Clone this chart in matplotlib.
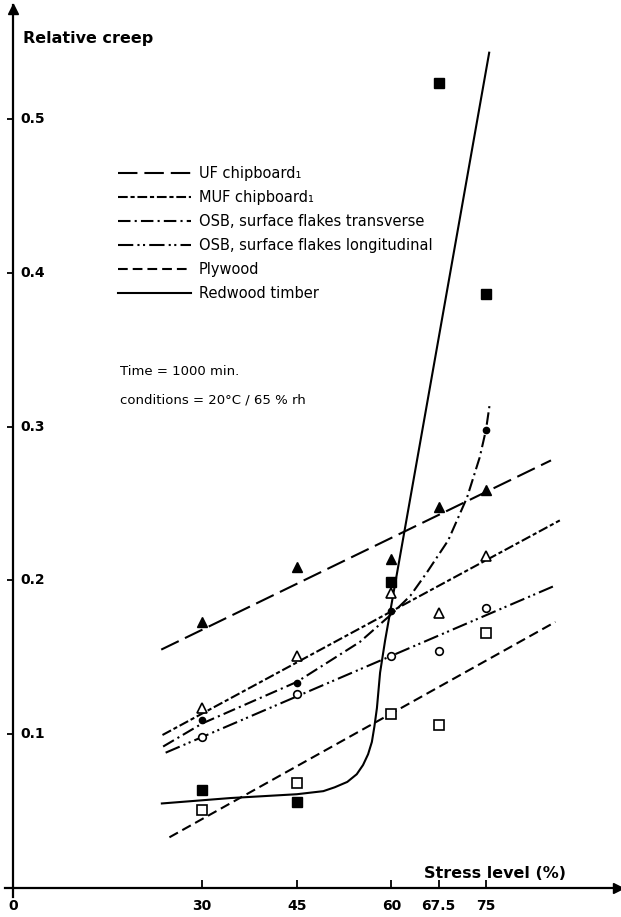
import numpy as np
import matplotlib
matplotlib.use('Agg')
import matplotlib.pyplot as plt
from matplotlib.lines import Line2D

plt.rcParams['lines.scale_dashes'] = False
plt.rcParams['font.family'] = ['DejaVu Sans']

# measured points (stress level %, relative creep)
stress = np.array([30, 45, 60, 67.5, 75])
uf_pts = [0.173, 0.209, 0.214, 0.248, 0.259]          # filled triangles
muf_pts = [0.117, 0.151, 0.192, 0.179, 0.216]         # open triangles
osbt_pts = [0.109, 0.133, 0.180, np.nan, 0.298]       # filled circles
osbl_pts = [0.098, 0.126, 0.151, 0.154, 0.182]        # open circles
ply_pts = [0.051, 0.068, 0.113, 0.106, 0.166]         # open squares
red_pts = [0.064, 0.056, 0.199, 0.523, 0.386]         # filled squares

# fitted curves
uf_fit_x, uf_fit_y = [23.5, 85.3], [0.155, 0.278]
muf_fit_x, muf_fit_y = [23.7, 86.7], [0.0995, 0.239]
osbl_fit_x, osbl_fit_y = [24.2, 85.6], [0.088, 0.196]
ply_fit_x, ply_fit_y = [24.8, 86.0], [0.033, 0.173]
osbt_fit_x = [23.8, 30, 45, 55, 60, 63, 65.6, 69, 72, 74, 75, 75.6]
osbt_fit_y = [0.092, 0.107, 0.134, 0.160, 0.178, 0.190, 0.205, 0.226, 0.254, 0.280, 0.298, 0.315]
red_fit_x = [23.6, 34.4, 45, 49.2, 51, 53, 54.5, 55.5, 56.3, 56.9, 57.3, 57.7, 58.2, 59, 75.5]
red_fit_y = [0.055, 0.0585, 0.061, 0.063, 0.0655, 0.069, 0.074, 0.080, 0.087, 0.095,
             0.105, 0.117, 0.140, 0.161, 0.543]

xticks = [0, 30, 45, 60, 67.5, 75]
xticklabels = ['0', '30', '45', '60', '67.5', '75']
yticks = [0.1, 0.2, 0.3, 0.4, 0.5]

names = ['UF chipboard\u2081', 'MUF chipboard\u2081', 'OSB, surface flakes transverse',
         'OSB, surface flakes longitudinal', 'Plywood', 'Redwood timber']
dash = [(14, 5), (7, 2, 3, 2), (9, 3, 1.5, 3), (11, 3, 1.5, 2.5, 1.5, 3), (7, 3.6), None]

fig = plt.figure(figsize=(6.21, 9.17), dpi=100)
ax = fig.add_axes([5 / 621, 20 / 917, 616 / 621, 892 / 917])
ax.set_xlim(-1.27, 96.4)
ax.set_ylim(-0.0058, 0.574)

lw = 1.5
fits = [(uf_fit_x, uf_fit_y), (muf_fit_x, muf_fit_y), (osbt_fit_x, osbt_fit_y),
        (osbl_fit_x, osbl_fit_y), (ply_fit_x, ply_fit_y), (red_fit_x, red_fit_y)]
for (fx, fy), d in zip(fits, dash):
    if d is None:
        ax.plot(fx, fy, color='k', lw=lw, solid_joinstyle='round')
    else:
        ax.plot(fx, fy, color='k', lw=lw, dashes=d)

ax.plot(stress, uf_pts, '^', color='k', ms=7, ls='none')
ax.plot(stress, muf_pts, '^', mfc='white', mec='k', mew=1.2, ms=7, ls='none')
ax.plot(stress, osbt_pts, 'o', color='k', ms=4.5, ls='none')
ax.plot(stress, osbl_pts, 'o', mfc='white', mec='k', mew=1.2, ms=5.5, ls='none')
ax.plot(stress, ply_pts, 's', mfc='white', mec='k', mew=1.2, ms=7.5, ls='none')
ax.plot(stress, red_pts, 's', color='k', ms=7.5, ls='none')

# axes through the origin with arrows
for s in ['top', 'right']:
    ax.spines[s].set_visible(False)
for s in ['left', 'bottom']:
    ax.spines[s].set_position(('data', 0))
    ax.spines[s].set_linewidth(1.6)
ax.plot(0.995, 0, '>', color='k', ms=7, transform=ax.get_yaxis_transform(), clip_on=False)
ax.plot(0, 0.995, '^', color='k', ms=7, transform=ax.get_xaxis_transform(), clip_on=False)

ax.set_xticks(xticks)
ax.set_xticklabels(xticklabels, fontweight='bold', fontsize=10)
ax.tick_params(axis='x', direction='in', length=6, width=1.3, pad=8)
ax.set_yticks(yticks)
ax.set_yticklabels([])
ax.tick_params(axis='y', direction='out', length=4, width=1.3)
for v in yticks:
    ax.text(1.1, v, str(v), ha='left', va='center', fontsize=10, fontweight='bold')

ax.text(1.6, 0.552, 'Relative creep', ha='left', va='center', fontsize=11.5, fontweight='bold')
ax.text(65.2, 0.0098, 'Stress level (%)', ha='left', va='center', fontsize=11.5, fontweight='bold')
ax.text(17.0, 0.3355, 'Time = 1000 min.', ha='left', va='center', fontsize=9.5)
ax.text(17.0, 0.317, 'conditions = 20\u00b0C / 65 % rh', ha='left', va='center', fontsize=9.5)

handles = []
for d in dash:
    if d is None:
        handles.append(Line2D([], [], color='k', lw=lw))
    else:
        handles.append(Line2D([], [], color='k', lw=lw, dashes=d))
ax.legend(handles, names, loc='upper left', bbox_to_anchor=(118 / 621, (917 - 166) / 917),
          bbox_transform=fig.transFigure, frameon=False, fontsize=10.5, handlelength=5.0,
          handletextpad=0.55, labelspacing=0.62, borderpad=0, borderaxespad=0)

fig.savefig('out.png', dpi=100)
